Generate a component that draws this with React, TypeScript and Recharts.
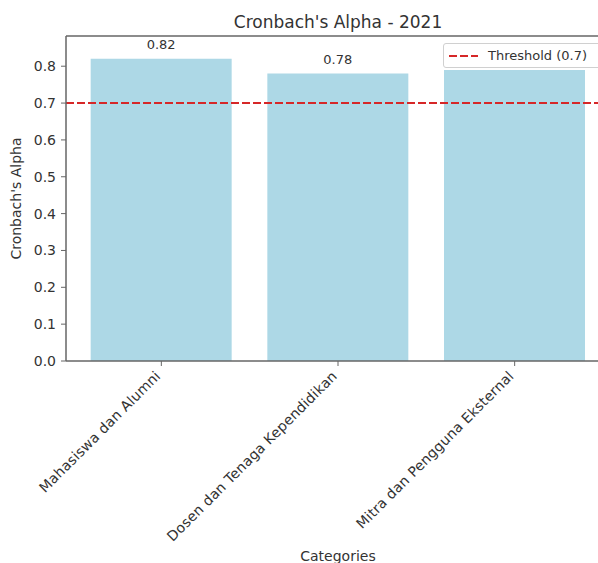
import {
  BarChart,
  Bar,
  XAxis,
  YAxis,
  ReferenceLine,
  LabelList,
} from "recharts";

const categories = [
  "Mahasiswa dan Alumni",
  "Dosen dan Tenaga Kependidikan",
  "Mitra dan Pengguna Eksternal",
];
const alphaValues = [0.82, 0.78, 0.79];
// the third value label sits under the legend box in the original
const showValueLabel = [true, true, false];
const yTicks = [0, 0.1, 0.2, 0.3, 0.4, 0.5, 0.6, 0.7, 0.8];
const threshold = 0.7;
const yMax = 0.882;

const data = categories.map((name, i) => ({
  name,
  alpha: alphaValues[i],
  label: showValueLabel[i] ? alphaValues[i].toFixed(2) : "",
}));

const FONT = "'DejaVu Sans', sans-serif";
const TEXT = "#333";
const SPINE = "#666";

const XTick = (props: any) => {
  const { x, y, payload } = props;
  return (
    <g transform={`translate(${x},${y + 9})`}>
      <text
        textAnchor="end"
        transform="rotate(-45)"
        fontSize={14}
        letterSpacing={0.2}
        fontFamily={FONT}
        fill={TEXT}
      >
        {payload.value}
      </text>
    </g>
  );
};

const LegendBox = () => (
  <div
    style={{
      position: "absolute",
      left: 443,
      top: 43,
      width: 170,
      height: 25,
      border: "1px solid #d0d0d0",
      borderRadius: 3,
      background: "white",
      display: "flex",
      alignItems: "center",
      fontFamily: FONT,
      fontSize: 13,
      color: TEXT,
      boxSizing: "border-box",
    }}
  >
    <svg width={44} height={10}>
      <line
        x1={5}
        y1={5}
        x2={34}
        y2={5}
        stroke="#d62728"
        strokeWidth={2}
        strokeDasharray="8 3"
      />
    </svg>
    <span>Threshold (0.7)</span>
  </div>
);

const App = () => {
  return (
    <div
      style={{
        position: "absolute",
        left: 0,
        top: 0,
        width: 598,
        height: 563,
        overflow: "hidden",
        background: "white",
      }}
    >
      <div
        style={{
          position: "absolute",
          left: 66,
          width: 544,
          top: 12,
          textAlign: "center",
          fontFamily: FONT,
          fontSize: 17,
          color: TEXT,
        }}
      >
        Cronbach's Alpha - 2021
      </div>
      <BarChart
        width={640}
        height={563}
        data={data}
        margin={{ top: 36, right: 30, left: 0, bottom: 0 }}
        barCategoryGap="10%"
      >
        <XAxis
          dataKey="name"
          height={202}
          padding={{ left: 7, right: 7 }}
          axisLine={{ stroke: SPINE, strokeWidth: 1.5 }}
          tickLine={{ stroke: SPINE }}
          tickSize={5}
          tick={<XTick />}
          interval={0}
          label={{
            value: "Categories",
            position: "insideBottom",
            offset: 0,
            dy: -2,
            fontSize: 14,
            fontFamily: FONT,
            fill: TEXT,
          }}
        />
        <YAxis
          width={66}
          domain={[0, yMax]}
          ticks={yTicks}
          tickFormatter={(v: number) => v.toFixed(1)}
          axisLine={{ stroke: SPINE, strokeWidth: 1.5 }}
          tickLine={{ stroke: SPINE }}
          tickSize={5}
          tickMargin={5}
          tick={{ fontSize: 14, fontFamily: FONT, fill: TEXT }}
          label={{
            value: "Cronbach's Alpha",
            angle: -90,
            position: "insideLeft",
            offset: 0,
            dx: 16,
            fontSize: 14,
            fontFamily: FONT,
            fill: TEXT,
            style: { textAnchor: "middle" },
          }}
        />
        <Bar dataKey="alpha" fill="#add8e6" isAnimationActive={false}>
          <LabelList
            dataKey="label"
            position="top"
            offset={10}
            style={{ fontSize: 13, fontFamily: FONT, fill: TEXT }}
          />
        </Bar>
        <ReferenceLine y={yMax} stroke={SPINE} strokeWidth={1.5} />
        <ReferenceLine
          y={threshold}
          stroke="#d62728"
          strokeWidth={2}
          strokeDasharray="8 3"
        />
      </BarChart>
      <LegendBox />
    </div>
  );
};

export default App;
